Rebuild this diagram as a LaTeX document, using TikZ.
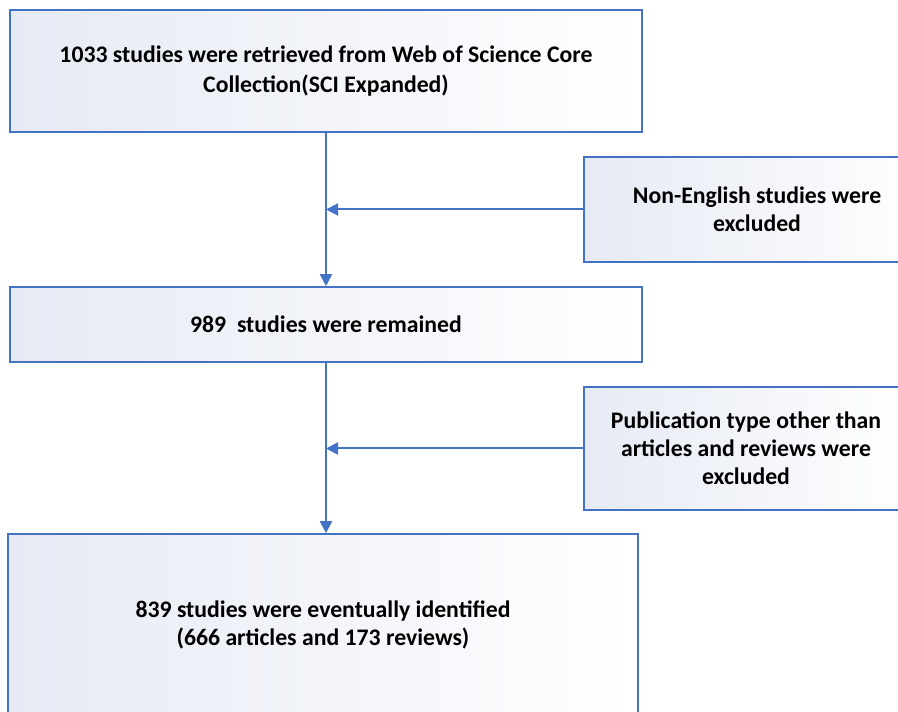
\documentclass[tikz,border=0pt]{standalone}
\usepackage{fontspec}
\setmainfont{Carlito}
\usepackage{tikz}
\usetikzlibrary{positioning, arrows.meta}
\definecolor{flowblue}{HTML}{4472C4}
\definecolor{flowfill}{HTML}{E6EAF4}
\tikzset{
    flowbox/.style={draw=flowblue, line width=1.2pt, left color=flowfill, right color=white,
        align=center, inner sep=0pt,
        font=\fontsize{17.8}{21}\selectfont\bfseries},
    flowarrow/.style={draw=flowblue, line width=1.5pt,
        -{Triangle[length=9pt, width=9pt]}}
}

\begin{document}
\begin{tikzpicture}[x=0.75pt, y=0.75pt]
    \useasboundingbox (0,0) rectangle (898,712);
    \clip (0,0) rectangle (898,712);

    \node[flowbox, font=\fontsize{17.8}{22.5}\selectfont\bfseries,
          minimum width=632*0.75pt, minimum height=122*0.75pt] at (326,641)   (retrieved)
        {1033 studies were retrieved from Web of Science Core\\Collection(SCI Expanded)};
    \node[flowbox, minimum width=346*0.75pt, minimum height=105*0.75pt] at (757,502.5) (english)
        {Non-English studies were\\excluded};
    \node[flowbox, minimum width=632*0.75pt, minimum height=75*0.75pt]  at (326,387.5) (remained)
        {989\ \ studies were remained};
    \node[flowbox, minimum width=324*0.75pt, minimum height=123*0.75pt] at (746,263.5) (pubtype)
        {Publication type other than\\articles and reviews were\\excluded};
    \node[flowbox, minimum width=630*0.75pt, minimum height=182*0.75pt] at (323,87)    (identified)
        {839 studies were eventually identified\\(666 articles and 173 reviews)};

    \draw[flowarrow] (retrieved.south) -- (remained.north);
    \draw[flowarrow] (remained.south) -- (remained.south |- identified.north);
    \draw[flowarrow] (english.west) -- (english.west -| retrieved.south);
    \draw[flowarrow] (pubtype.west) -- (pubtype.west -| remained.south);
\end{tikzpicture}
\end{document}
